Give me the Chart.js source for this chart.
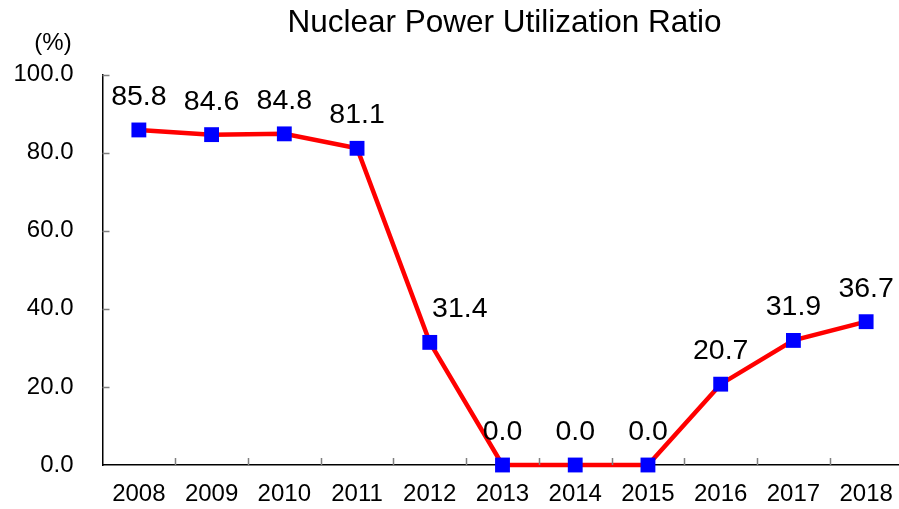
<!DOCTYPE html>
<html>
<head>
<meta charset="utf-8">
<script src="https://cdn.jsdelivr.net/npm/chart.js@4.4.0/dist/chart.umd.min.js"></script>
<style>
    html, body { margin: 0; padding: 0; background: #ffffff; overflow: hidden; }
    #wrap { width: 899px; height: 509px; overflow: hidden; }
</style>
</head>
<body>
<div id="wrap"><canvas id="myChart" width="913" height="509"></canvas></div>
<script>
// chart data
let years = ["2008", "2009", "2010", "2011", "2012", "2013", "2014", "2015", "2016", "2017", "2018"];
let ratio = [85.8, 84.6, 84.8, 81.1, 31.4, 0.0, 0.0, 0.0, 20.7, 31.9, 36.7];
let yTicks = [0, 20, 40, 60, 80, 100];

let titleText = "Nuclear Power Utilization Ratio";
let unitText = "(%)";
let fontName = "'Liberation Sans', Arial, sans-serif";

// title, unit, inward tick marks and value labels
let decorations = {
    id: "decorations",
    afterDraw(chart) {
        let ctx = chart.ctx;
        let area = chart.chartArea;
        let xs = chart.scales.x;
        let ys = chart.scales.y;

        ctx.save();

        // title
        ctx.fillStyle = "#000000";
        ctx.font = "31.5px " + fontName;
        ctx.textAlign = "center";
        ctx.textBaseline = "middle";
        ctx.fillText(titleText, (area.left + area.right) / 2 + 2, 23);

        // unit
        ctx.font = "24px " + fontName;
        ctx.fillText(unitText, 53, 43);

        // tick marks pointing into the plot
        ctx.strokeStyle = "#808080";
        ctx.lineWidth = 1.5;
        ctx.beginPath();
        yTicks.forEach(v => {
            if (v === 0) return;
            let y = Math.round(ys.getPixelForValue(v)) + 0.5;
            ctx.moveTo(area.left, y);
            ctx.lineTo(area.left + 7, y);
        });
        let step = xs.getPixelForValue(1) - xs.getPixelForValue(0);
        for (let i = 0; i < years.length - 1; i++) {
            let x = Math.round(xs.getPixelForValue(i) + step / 2) + 0.5;
            ctx.moveTo(x, area.bottom);
            ctx.lineTo(x, area.bottom - 7);
        }
        ctx.stroke();

        // value labels
        ctx.fillStyle = "#000000";
        ctx.font = "28.5px " + fontName;
        ctx.textAlign = "center";
        ctx.textBaseline = "alphabetic";
        let meta = chart.getDatasetMeta(0);
        meta.data.forEach((pt, i) => {
            let dx = (i === 4) ? 30 : 0;
            ctx.fillText(ratio[i].toFixed(1), pt.x + dx, pt.y - 25);
        });

        ctx.restore();
    }
};

let config = {
    type: "line",
    data: {
        labels: years,
        datasets: [
            {
                label: "Utilization ratio",
                data: ratio,
                borderColor: "#FF0000",
                borderWidth: 4.5,
                tension: 0,
                fill: false,
                pointStyle: "rect",
                pointRadius: 10.5,
                pointHoverRadius: 10.5,
                pointBackgroundColor: "#0000FF",
                pointBorderWidth: 0,
                clip: false
            }
        ]
    },
    options: {
        responsive: false,
        animation: false,
        events: [],
        layout: {
            padding: { left: 0, right: 3, top: 74.5, bottom: 0 }
        },
        plugins: {
            legend: { display: false },
            title: { display: false },
            tooltip: { enabled: false }
        },
        scales: {
            x: {
                offset: true,
                grid: { display: true, drawOnChartArea: false, drawTicks: false },
                border: { display: true, color: "#000000", width: 1.5 },
                ticks: {
                    color: "#000000",
                    font: { family: fontName, size: 24 },
                    padding: 15,
                    maxRotation: 0,
                    autoSkip: false
                },
                afterFit(scale) { scale.height = 44; }
            },
            y: {
                min: 0,
                max: 100,
                grid: { display: true, drawOnChartArea: false, drawTicks: false },
                border: { display: true, color: "#000000", width: 1.5 },
                afterBuildTicks(scale) {
                    scale.ticks = yTicks.map(v => ({ value: v }));
                },
                ticks: {
                    color: "#000000",
                    font: { family: fontName, size: 24 },
                    padding: 29,
                    callback: v => v.toFixed(1)
                },
                afterFit(scale) { scale.width = 102.5; }
            }
        }
    },
    plugins: [decorations]
};

let ctx = document.getElementById("myChart").getContext("2d");
let myChart = new Chart(ctx, config);
</script>
</body>
</html>
